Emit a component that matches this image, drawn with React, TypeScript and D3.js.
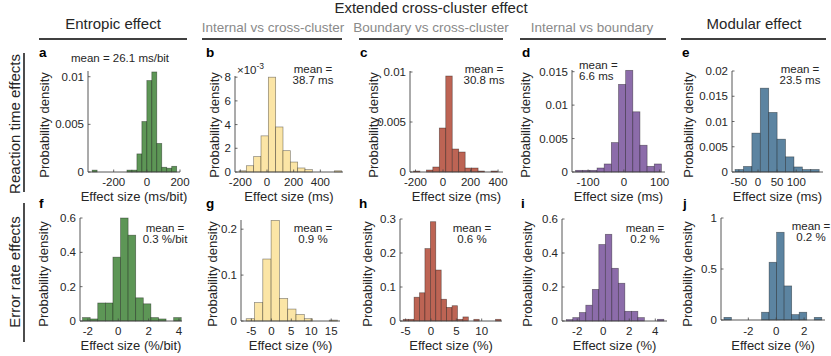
import * as d3 from 'd3';

const FONT = '"Liberation Sans", Arial, Helvetica, sans-serif';

// probability density per bin (left to right)
const rtEntropic = [0.0002, 0, 0, 0, 0, 0, 0, 0.0002, 0.0002, 0.0019, 0.0053, 0.0096, 0.0105, 0.003, 0.0005, 0.0004, 0.0006];
const rtInternalCross = [0.0001, 0.00053, 0.0013, 0.00305, 0.008, 0.0038, 0.0018, 0.00084, 0.00034, 0.0002, 0, 0, 0, 0.0001];
const rtBoundaryCross = [0.0001, 0, 0.0002, 0.0005, 0.0044, 0.0096, 0.0023, 0.002, 0.0004, 0.0004, 0.0001, 0, 0.0001];
const rtInternalBoundary = [0.00025, 0.00025, 0.00025, 0.0006, 0.0012, 0.0044, 0.0131, 0.0152, 0.009, 0.004, 0.00085, 0.0012];
const rtModular = [0.0005, 0.0011, 0.0077, 0.0166, 0.0118, 0.0065, 0.003, 0.001, 0.0005, 0.0005];

const erEntropic = [0.02, 0.012, 0.105, 0.105, 0.372, 0.6, 0.5, 0.135, 0.1, 0.02, 0.012, 0, 0.02];
const erInternalCross = [0.005, 0.04, 0.135, 0.219, 0.049, 0.026, 0.014, 0.005, 0, 0, 0.002];
const erBoundaryCross = [0.005, 0.005, 0.07, 0.083, 0.213, 0.292, 0.15, 0.064, 0.04, 0.045, 0.005, 0.012, 0, 0.005, 0, 0, 0, 0.005];
const erInternalBoundary = [0.008, 0.02, 0.05, 0.093, 0.186, 0.45, 0.51, 0.31, 0.222, 0.057, 0.057, 0.02, 0, 0, 0.01];
const erModular = [0.026, 0, 0, 0, 0, 0.076, 0.566, 0.86, 0.334, 0.053, 0.076, 0, 0.026];

// first bin edge and bin width
const binStart = [-330, -210, -215, -135, -60, -2.35, -6.3, -5.47, -2.84, -3.75];
const binWidth = [30, 55, 47, 20, 22, 0.5, 2.08, 1.07, 0.5, 0.54];

const xTicks = [
  [-200, 0, 200], [-200, 0, 200, 400], [-200, 0, 200, 400], [-100, 0, 100], [-50, 0, 50, 100],
  [-2, 0, 2, 4], [-5, 0, 5, 10, 15], [-5, 0, 5, 10], [-2, 0, 2, 4], [-2, 0, 2],
];
const yTicks = [
  [0, 0.005, 0.01], [0, 0.002, 0.004, 0.006, 0.008], [0, 0.005, 0.01], [0, 0.005, 0.01, 0.015],
  [0, 0.005, 0.01, 0.015, 0.02], [0, 0.2, 0.4, 0.6], [0, 0.1, 0.2], [0, 0.1, 0.2, 0.3], [0, 0.2, 0.4, 0.6], [0, 0.5, 1],
];
const yTickLabels = [
  ['0', '0.005', '0.01'], ['0', '2', '4', '6', '8'], ['0', '0.005', '0.01'], ['0', '0.005', '0.01', '0.015'],
  ['0', '0.005', '0.01', '0.015', '0.02'], ['0', '0.2', '0.4', '0.6'], ['0', '0.1', '0.2'], ['0', '0.1', '0.2', '0.3'],
  ['0', '0.2', '0.4', '0.6'], ['0', '0.5', '1'],
];
const xLabels = [
  'Effect size (ms/bit)', 'Effect size (ms)', 'Effect size (ms)', 'Effect size (ms)', 'Effect size (ms)',
  'Effect size (%/bit)', 'Effect size (%)', 'Effect size (%)', 'Effect size (%)', 'Effect size (%)',
];
const meanTexts = [
  ['mean = 26.1 ms/bit'], ['mean =', '38.7 ms'], ['mean =', '30.8 ms'], ['mean =', '6.6 ms'], ['mean =', '23.5 ms'],
  ['mean =', '0.3 %/bit'], ['mean =', '0.9 %'], ['mean =', '0.6 %'], ['mean =', '0.2 %'], ['mean =', '0.2 %'],
];
const letters = ['a', 'b', 'c', 'd', 'e', 'f', 'g', 'h', 'i', 'j'];
const columnTitles = ['Entropic effect', 'Internal vs cross-cluster', 'Boundary vs cross-cluster', 'Internal vs boundary', 'Modular effect'];
const rowTitles = ['Reaction time effects', 'Error rate effects'];

const colors = ['#5d9656', '#fbe5a6', '#bd6454', '#8c6caa', '#5c84a1'];

// layout of each axes: [left, right, top, bottom], x domain, y domain
const panels = [
  { values: rtEntropic, box: [88, 180, 71, 172], xd: [-355, 200], yd: [0, 0.0106], letterX: 39, ylabX: 44, mean: [120, 62], anchor: 'middle' },
  { values: rtInternalCross, box: [235, 343, 76, 172], xd: [-240, 570], yd: [0, 0.0081], letterX: 206, ylabX: 214, mean: [313, 73], anchor: 'middle' },
  { values: rtBoundaryCross, box: [410, 503, 71, 172], xd: [-240, 436], yd: [0, 0.0101], letterX: 360, ylabX: 373, mean: [484, 73], anchor: 'middle' },
  { values: rtInternalBoundary, box: [572, 665, 70, 172], xd: [-145, 115], yd: [0, 0.01525], letterX: 522, ylabX: 525, mean: [579, 69], anchor: 'start' },
  { values: rtModular, box: [732, 823, 71, 172], xd: [-68, 170], yd: [0, 0.02], letterX: 682, ylabX: 688, mean: [800, 73], anchor: 'middle' },
  { values: erEntropic, box: [80, 182, 218, 321], xd: [-2.52, 4.2], yd: [0, 0.6], letterX: 39, ylabX: 43, mean: [165, 232], anchor: 'middle' },
  { values: erInternalCross, box: [241, 340, 220, 321], xd: [-7.6, 17.2], yd: [0, 0.22], letterX: 206, ylabX: 212, mean: [313, 232], anchor: 'middle' },
  { values: erBoundaryCross, box: [400, 502, 219, 321], xd: [-6.1, 14], yd: [0, 0.3], letterX: 359, ylabX: 367, mean: [472, 232], anchor: 'middle' },
  { values: erInternalBoundary, box: [562, 667, 219, 321], xd: [-3.17, 4.9], yd: [0, 0.6], letterX: 521, ylabX: 527, mean: [645, 232], anchor: 'middle' },
  { values: erModular, box: [721, 825, 218, 320], xd: [-3.96, 3.5], yd: [0, 1], letterX: 683, ylabX: 687, mean: [811, 230], anchor: 'middle' },
];

const titleLines = [[39, 187], [202, 342], [359, 503], [520, 666], [681, 826]];
const titleX = [113, 273, 431, 592, 754];

const AXIS = '#444';
const TEXT = '#262626';

function Histogram({ i }: { i: number }) {
  const p = panels[i];
  const [l, r, t, b] = p.box;
  const x = d3.scaleLinear().domain(p.xd).range([l, r]);
  const y = d3.scaleLinear().domain(p.yd).range([b, t]);
  const color = colors[i % 5];
  const row = i < 5 ? 0 : 1;
  const tickBase = row === 0 ? 186 : 335;
  const labelBase = row === 0 ? 201 : 350;
  const letterBase = row === 0 ? 57 : 208;
  const ylabY = row === 0 ? 125 : 274;
  const bins = p.values.map((v, k) => ({ x0: binStart[i] + k * binWidth[i], x1: binStart[i] + (k + 1) * binWidth[i], v }));

  return (
    <g>
      {bins.filter(d => d.v > 0).map((d, k) => (
        <rect key={k} x={x(d.x0)} y={y(d.v)} width={x(d.x1) - x(d.x0)} height={y(0) - y(d.v)}
          fill={color} stroke="#000" strokeOpacity={0.45} strokeWidth={0.7} />
      ))}
      <line x1={l} x2={l} y1={t} y2={b} stroke={AXIS} strokeWidth={0.9} />
      <line x1={l} x2={r} y1={b} y2={b} stroke={AXIS} strokeWidth={0.9} />
      {yTicks[i].map((v, k) => (
        <g key={k}>
          <line x1={l} x2={l + 2.5} y1={y(v)} y2={y(v)} stroke={AXIS} strokeWidth={0.8} />
          <text x={l - 4} y={y(v) + 4} textAnchor="end" fontSize={11.5} fill={TEXT}>{yTickLabels[i][k]}</text>
        </g>
      ))}
      {xTicks[i].map((v, k) => (
        <g key={k}>
          <line x1={x(v)} x2={x(v)} y1={b} y2={b - 2.5} stroke={AXIS} strokeWidth={0.8} />
          <text x={x(v)} y={tickBase} textAnchor="middle" fontSize={11.5} fill={TEXT}>{String(v)}</text>
        </g>
      ))}
      <text x={(l + r) / 2} y={labelBase} textAnchor="middle" fontSize={13} fill={TEXT}>{xLabels[i]}</text>
      <text transform={`translate(${p.ylabX + 4.5},${ylabY}) rotate(-90)`} textAnchor="middle" fontSize={13} fill={TEXT}>Probability density</text>
      <text x={p.letterX} y={letterBase} fontSize={13.5} fontWeight="bold" fill="#000">{letters[i]}</text>
      {meanTexts[i].map((s, k) => (
        <text key={k} x={p.mean[0]} y={p.mean[1] + k * 10.5} textAnchor={p.anchor} fontSize={11.5} fill={TEXT}>{s}</text>
      ))}
      {i === 1 && (
        <text x={l + 2} y={t - 2} fontSize={11.5} fill={TEXT}>
          ×10<tspan fontSize={8.5} dy={-5}>-3</tspan>
        </text>
      )}
    </g>
  );
}

export default function App() {
  return (
    <svg width={831} height={356} style={{ position: 'absolute', left: 0, top: 0, background: '#fff' }} fontFamily={FONT}>
      <text x={431} y={13} textAnchor="middle" fontSize={15} fill={TEXT}>Extended cross-cluster effect</text>
      {columnTitles.map((s, k) => (
        <text key={k} x={titleX[k]} y={k === 0 || k === 4 ? 29 : 31.5} textAnchor="middle"
          fontSize={k === 0 || k === 4 ? 15 : 13.5} fill={k === 0 || k === 4 ? TEXT : '#8a8a8a'}>{s}</text>
      ))}
      {titleLines.map(([a, b], k) => (
        <line key={k} x1={a} x2={b} y1={39} y2={39} stroke="#000" strokeWidth={1.4} />
      ))}
      <line x1={24} x2={24} y1={53} y2={192} stroke="#000" strokeWidth={1.4} />
      <line x1={24} x2={24} y1={203} y2={342} stroke="#000" strokeWidth={1.4} />
      {rowTitles.map((s, k) => (
        <text key={k} transform={`translate(20,${k === 0 ? 124 : 272}) rotate(-90)`} textAnchor="middle" fontSize={15} fill={TEXT}>{s}</text>
      ))}
      {panels.map((_, i) => <Histogram key={i} i={i} />)}
    </svg>
  );
}
